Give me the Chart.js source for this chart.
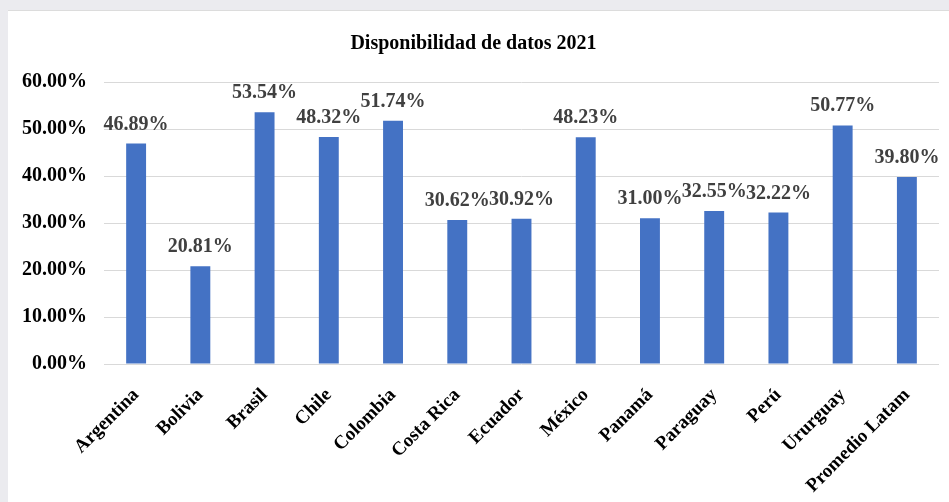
<!DOCTYPE html>
<html>
<head>
<meta charset="utf-8">
<script src="https://cdn.jsdelivr.net/npm/chart.js@4"></script>
<style>
  html, body { margin: 0; padding: 0; }
  body { width: 949px; height: 502px; background: #ebebef; overflow: hidden; position: relative; }
  #card { position: absolute; left: 8px; top: 10px; width: 941px; height: 492px; background: #fff; border-top: 1px solid #dcdcdc; box-sizing: border-box; }
  #chart { display: block; }
</style>
</head>
<body>
<div id="card"><canvas id="chart" width="941" height="491"></canvas></div>
<script>
const countries = ["Argentina", "Bolivia", "Brasil", "Chile", "Colombia", "Costa Rica", "Ecuador", "México", "Panamá", "Paraguay", "Perú", "Ururguay", "Promedio Latam"];
const availability = [46.89, 20.81, 53.54, 48.32, 51.74, 30.62, 30.92, 48.23, 31.00, 32.55, 32.22, 50.77, 39.80];
const yTicks = [0, 10, 20, 30, 40, 50, 60];

const serif = "'Liberation Serif', 'DejaVu Serif', serif";

// draws the percentage above each bar
const valueLabels = {
  id: "valueLabels",
  afterDatasetsDraw(chart) {
    const c = chart.ctx;
    const meta = chart.getDatasetMeta(0);
    c.save();
    c.font = "bold 20px " + serif;
    c.fillStyle = "#404040";
    c.textAlign = "center";
    c.textBaseline = "alphabetic";
    meta.data.forEach((bar, i) => {
      c.fillText(availability[i].toFixed(2) + "%", bar.x, bar.y - 14);
    });
    c.restore();
  },
};

const ctx = document.getElementById("chart");
new Chart(ctx, {
  type: "bar",
  data: {
    labels: countries,
    datasets: [
      {
        data: availability,
        backgroundColor: "#4472c4",
        borderWidth: 0,
        barPercentage: 0.31,
        categoryPercentage: 1,
      },
    ],
  },
  options: {
    responsive: false,
    animation: false,
    layout: { padding: { left: 0, right: 10, top: 0, bottom: 0 } },
    plugins: {
      legend: { display: false },
      tooltip: { enabled: false },
      title: {
        display: true,
        text: "Disponibilidad de datos 2021",
        color: "#000",
        font: { family: serif, size: 20, weight: "bold" },
        padding: { top: 21, bottom: 26 },
      },
    },
    scales: {
      x: {
        grid: { display: false },
        border: { display: false },
        ticks: {
          color: "#000",
          font: { family: serif, size: 19, weight: "bold" },
          maxRotation: 45,
          minRotation: 45,
          autoSkip: false,
          padding: 12,
        },
        afterFit: (s) => { s.height = 138; },
      },
      y: {
        min: 0,
        max: 60,
        afterBuildTicks: (s) => { s.ticks = yTicks.map((v) => ({ value: v })); },
        grid: { color: "#d9d9d9", lineWidth: 1, drawTicks: false },
        border: { display: false },
        ticks: {
          color: "#000",
          font: { family: serif, size: 20, weight: "bold" },
          padding: 17,
          callback: (v) => v.toFixed(2) + "%",
        },
        afterFit: (s) => { s.width = 96; },
      },
    },
  },
  plugins: [valueLabels],
});
</script>
</body>
</html>
